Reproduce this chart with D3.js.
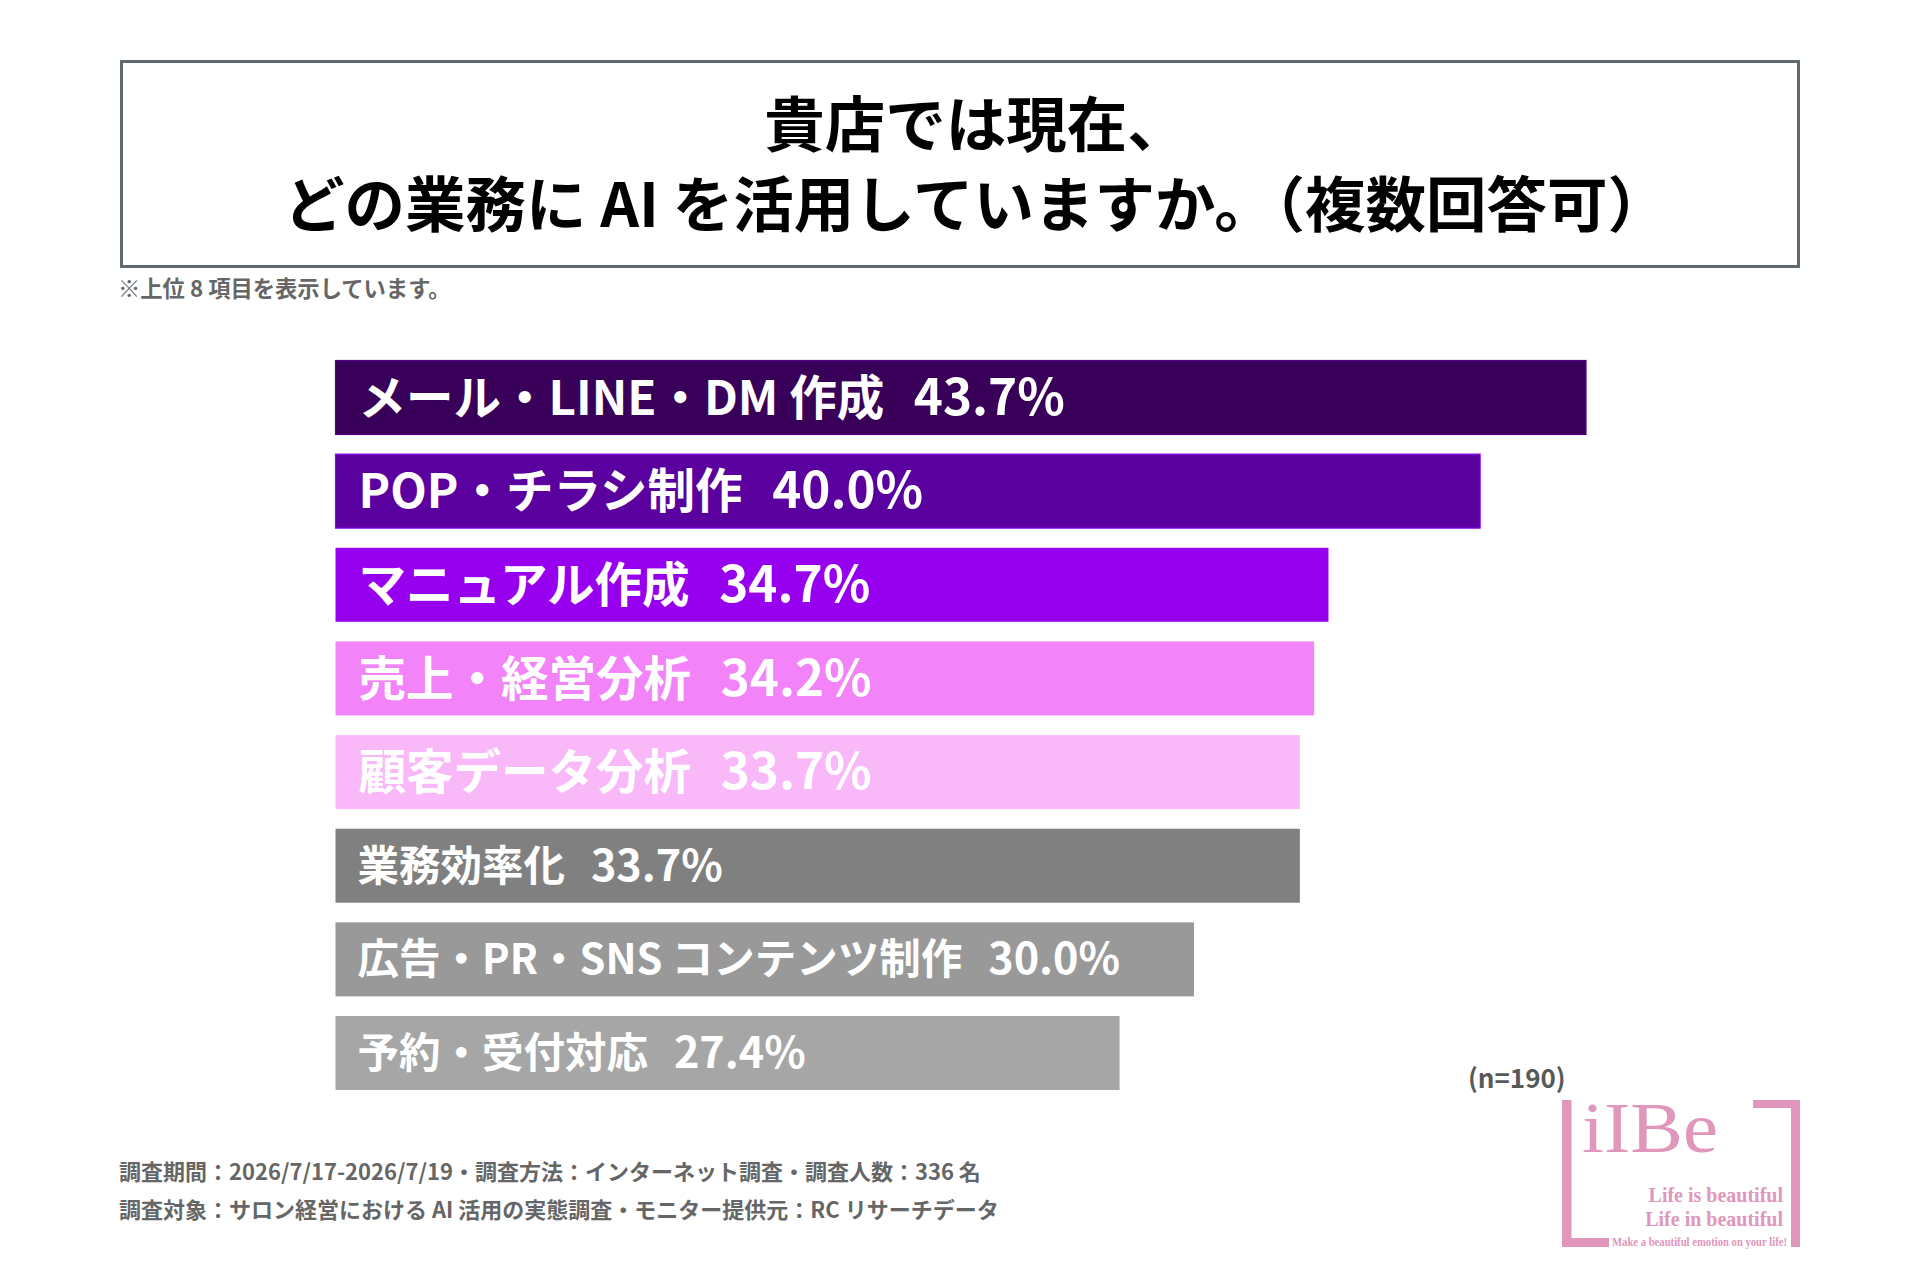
<!DOCTYPE html>
<html lang="ja">
<head>
<meta charset="utf-8">
<script src="https://cdn.jsdelivr.net/npm/d3@7"></script>
<style>
  body { margin: 0; background: #fff; }
  text { font-family: "Noto Sans CJK JP", "Noto Sans", sans-serif; }
  .serif { font-family: "Liberation Serif", "DejaVu Serif", serif; }
</style>
</head>
<body>
<script>
// chart data
var categories = [
  "メール・LINE・DM 作成",
  "POP・チラシ制作",
  "マニュアル作成",
  "売上・経営分析",
  "顧客データ分析",
  "業務効率化",
  "広告・PR・SNS コンテンツ制作",
  "予約・受付対応"
];
var values = [43.7, 40.0, 34.7, 34.2, 33.7, 33.7, 30.0, 27.4];
var barColors = ["#380059", "#5a009e", "#9600ee", "#f283f8", "#f9b9f9", "#808080", "#999999", "#a6a6a6"];

var titleLines = ["貴店では現在、", "どの業務に AI を活用していますか。（複数回答可）"];
var noteText = "※上位 8 項目を表示しています。";
var sampleText = "(n=190)";
var footerLines = [
  "調査期間：2026/7/17-2026/7/19・調査方法：インターネット調査・調査人数：336 名",
  "調査対象：サロン経営における AI 活用の実態調査・モニター提供元：RC リサーチデータ"
];

var w = 1920;
var h = 1280;

var svg = d3.select("body")
    .append("svg")
    .attr("width", w)
    .attr("height", h);

// title box
svg.append("rect")
    .attr("x", 121.5)
    .attr("y", 61.5)
    .attr("width", 1677)
    .attr("height", 205)
    .attr("fill", "#fff")
    .attr("stroke", "#5f696f")
    .attr("stroke-width", 3);

svg.selectAll("text.title")
    .data(titleLines)
    .enter()
    .append("text")
    .attr("class", "title")
    .attr("x", 976)
    .attr("y", function(d, i){ return 147 + i * 80; })
    .attr("text-anchor", "middle")
    .style("font-size", "60.5px")
    .style("font-weight", 700)
    .style("fill", "#000")
    .text(function(d){ return d; });

svg.append("text")
    .attr("x", 118)
    .attr("y", 297)
    .style("font-size", "22.3px")
    .style("font-weight", 700)
    .style("fill", "#666")
    .text(noteText);

// scales
var x = d3.scaleLinear()
    .domain([0, d3.max(values)])
    .range([335.5, 1586]);

var y = d3.scaleBand()
    .domain(categories)
    .range([360.5, 1090])
    .paddingInner(0.21)
    .paddingOuter(0);

var rows = categories.map(function(c, i){
    return { name: c, value: values[i], color: barColors[i] };
});

svg.selectAll("rect.bar")
    .data(rows)
    .enter()
    .append("rect")
    .attr("class", "bar")
    .attr("x", x(0))
    .attr("y", function(d){ return y(d.name); })
    .attr("width", function(d){ return x(d.value) - x(0); })
    .attr("height", y.bandwidth())
    .attr("fill", function(d){ return d.color; })
    .attr("stroke", function(d, i){ return i < 2 ? d3.color(d.color).brighter(1.2) : "none"; })
    .attr("stroke-width", 1.2);

// the grey rows use a smaller label size in the original
function labelSize(i){ return i < 5 ? 47.5 : 41.5; }

var labels = svg.selectAll("text.label")
    .data(rows)
    .enter()
    .append("text")
    .attr("class", "label")
    .attr("x", function(d, i){ return i < 3 ? x(0) + 23 : (i < 5 ? x(0) + 23 : x(0) + 22); })
    .attr("y", function(d, i){ return y(d.name) + y.bandwidth() / 2 + labelSize(i) * 0.36; })
    .style("font-size", function(d, i){ return labelSize(i) + "px"; })
    .style("font-weight", 700)
    .style("fill", "#fff");

labels.append("tspan")
    .text(function(d){ return d.name; });

labels.append("tspan")
    .attr("dx", "0.6em")
    .style("font-size", "1.04em")
    .text(function(d){ return d.value.toFixed(1) + "%"; });

// sample size
svg.append("text")
    .attr("x", 1468)
    .attr("y", 1088)
    .style("font-size", "26px")
    .style("font-weight", 700)
    .style("fill", "#595959")
    .text(sampleText);

// footer
svg.selectAll("text.footer")
    .data(footerLines)
    .enter()
    .append("text")
    .attr("class", "footer")
    .attr("x", 119)
    .attr("y", function(d, i){ return 1180 + i * 38; })
    .style("font-size", "22px")
    .style("font-weight", 700)
    .style("fill", "#666")
    .text(function(d){ return d; });

// logo
var pink = "#e196bc";
var logo = svg.append("g");
logo.append("path")
    .attr("d", "M1562,1100 h9.5 v138 h37.5 v9 h-47 Z")
    .attr("fill", pink);
logo.append("path")
    .attr("d", "M1753,1100 h47 v147 h-9 v-139 h-38 Z")
    .attr("fill", pink);
logo.append("text")
    .attr("class", "serif")
    .attr("x", 1582)
    .attr("y", 1152)
    .attr("textLength", 136)
    .attr("lengthAdjust", "spacingAndGlyphs")
    .style("font-size", "72px")
    .style("fill", pink)
    .text("iIBe");
logo.selectAll("text.tag")
    .data(["Life is beautiful", "Life in beautiful"])
    .enter()
    .append("text")
    .attr("class", "serif tag")
    .attr("x", 1783)
    .attr("y", function(d, i){ return 1202 + i * 24; })
    .attr("text-anchor", "end")
    .style("font-size", "20px")
    .style("font-weight", 700)
    .style("fill", pink)
    .text(function(d){ return d; });
logo.append("text")
    .attr("class", "serif")
    .attr("x", 1612)
    .attr("y", 1246)
    .attr("textLength", 175)
    .attr("lengthAdjust", "spacingAndGlyphs")
    .style("font-size", "11.5px")
    .style("font-weight", 700)
    .style("fill", pink)
    .text("Make a beautiful emotion on your life!");
</script>
</body>
</html>
